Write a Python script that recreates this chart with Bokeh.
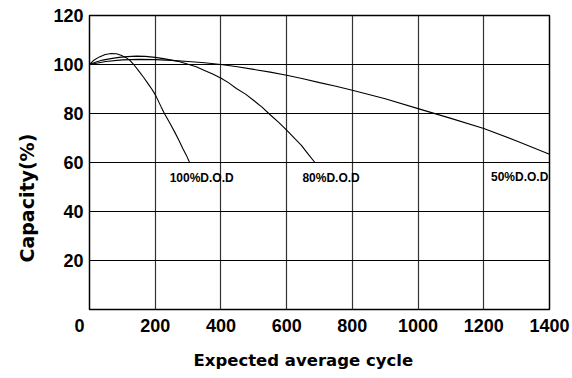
from bokeh.plotting import figure
from bokeh.models import FixedTicker, Label, Range1d, Title
from bokeh.embed import file_html
from bokeh.resources import INLINE

# ---- data ----
x_ticks = [0, 200, 400, 600, 800, 1000, 1200, 1400]
y_ticks = [0, 20, 40, 60, 80, 100, 120]

cycles_100 = [0, 12, 30, 48, 66, 82, 96, 110, 122, 137, 152, 165, 178, 190, 201, 218, 228,
              244, 259, 272, 284, 295, 304]
cap_100 = [100, 101.6, 103.1, 104.1, 104.5, 104.4, 103.8, 102.9, 101.8, 99.6, 97.0, 94.7,
           92.2, 89.9, 87.5, 82.7, 80.0, 76.2, 72.5, 69.1, 65.7, 62.9, 60.2]

cycles_80 = [0, 20, 40, 65, 90, 115, 143, 170, 200, 225, 250, 275, 295, 325, 350, 375, 402, 425,
             447, 475, 500, 525, 549, 575, 600, 625, 645, 665, 686]
cap_80 = [100, 101.0, 101.8, 102.4, 102.9, 103.2, 103.4, 103.3, 102.9, 102.4, 101.8, 101.1, 100.3,
          99.1, 97.6, 96.1, 94.3, 92.4, 90.2, 87.9, 85.3, 82.6, 79.6, 76.5, 73.2, 69.7, 67.0, 63.5, 60.0]

cycles_50 = [0, 50, 100, 150, 200, 250, 300, 350, 400, 450, 500, 550, 600, 650, 700, 750, 800,
             900, 1000, 1100, 1200, 1300, 1400]
cap_50 = [100, 101.2, 101.9, 102.1, 102.0, 101.7, 101.2, 100.7, 100.0, 99.1, 98.0, 96.9, 95.6,
          94.2, 92.6, 91.1, 89.5, 86.0, 82.0, 78.0, 73.9, 68.8, 63.4]

series_labels = ["100%D.O.D", "80%D.O.D", "50%D.O.D"]

FONT = "Liberation Sans"

p = figure(output_backend="svg", toolbar_location=None,
           frame_width=460, frame_height=294,
           min_border_left=88, min_border_right=24,
           min_border_top=15, min_border_bottom=69,
           x_range=Range1d(0, 1400), y_range=Range1d(0, 120))

p.background_fill_color = "white"
p.border_fill_color = "white"
p.outline_line_color = "black"
p.outline_line_width = 1.5

for ax in (p.xaxis[0], p.yaxis[0]):
    ax.axis_line_color = None
    ax.major_tick_line_color = None
    ax.minor_tick_line_color = None
    ax.major_tick_in = 0
    ax.major_tick_out = 0
    ax.major_label_text_font = FONT
    ax.major_label_text_font_style = "bold"
    ax.major_label_text_font_size = "18px"
    ax.major_label_text_color = "black"

p.xaxis.ticker = FixedTicker(ticks=x_ticks)
p.yaxis.ticker = FixedTicker(ticks=y_ticks)
p.xaxis.major_label_overrides = {0: "0\u00a0\u00a0\u00a0\u00a0"}
p.yaxis.major_label_overrides = {0: ""}
p.xaxis.major_label_standoff = 6
p.yaxis.major_label_standoff = 6

p.xgrid.ticker = FixedTicker(ticks=x_ticks)
p.ygrid.ticker = FixedTicker(ticks=y_ticks)
p.xgrid.grid_line_color = "#333333"
p.xgrid.grid_line_width = 1.2
p.ygrid.grid_line_color = "black"
p.ygrid.grid_line_width = 1

for xs, ys in ((cycles_100, cap_100), (cycles_80, cap_80), (cycles_50, cap_50)):
    p.line(xs, ys, line_color="black", line_width=1.1)

# curve labels
for txt, lx, ly in zip(series_labels, [244, 648, 1222], [53.5, 53.5, 54.1]):
    p.add_layout(Label(x=lx, y=ly, text=txt, text_font=FONT, text_font_style="bold",
                       text_font_size="12px", text_color="black", level="overlay",
                       text_align="left", text_baseline="alphabetic"))

# axis titles
xt = Title(text="Expected average cycle", text_font="DejaVu Sans", text_font_style="bold",
           text_font_size="16.5px", text_color="black", align="left", offset=104, standoff=21)
p.add_layout(xt, "below")
yt = Title(text="Capacity(%)", text_font="DejaVu Sans", text_font_style="bold",
           text_font_size="19px", text_color="black", align="left", offset=47, standoff=26)
p.add_layout(yt, "left")

open("out.html", "w").write(file_html(p, INLINE))
